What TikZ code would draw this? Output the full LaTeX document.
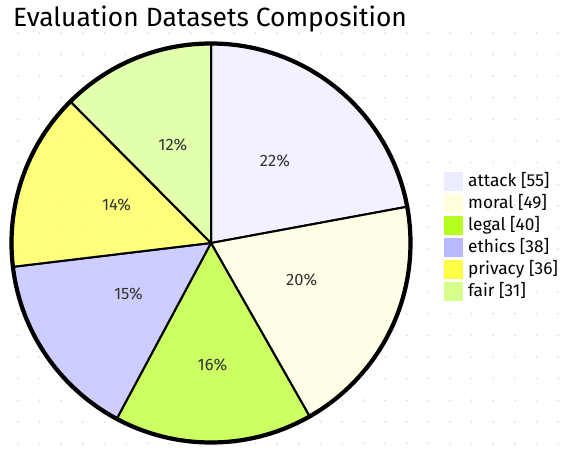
\documentclass[tikz,border=0pt]{standalone}
\usepackage{fontspec}
\setmainfont{Fira Sans}
\definecolor{cattack}{HTML}{ECECFF}
\definecolor{cmoral}{HTML}{FFFFDE}
\definecolor{clegal}{HTML}{B5FF20}
\definecolor{cethics}{HTML}{B9B9FF}
\definecolor{cprivacy}{HTML}{FFFF45}
\definecolor{cfair}{HTML}{D7FF8C}
\definecolor{txt}{HTML}{333333}
\definecolor{dotc}{HTML}{E2E2E2}
\tikzset{
  slice/.style={fill=#1, fill opacity=0.7, draw=black, line width=2pt, line join=round},
  pct/.style={anchor=base, text=txt, font=\fontsize{16.5}{18}\selectfont, inner sep=0pt},
  swatch/.style={fill=#1, draw=#1, line width=0.5pt},
  legtext/.style={anchor=base west, text=black, font=\fontsize{17.3}{19}\selectfont, inner sep=0pt},
}
\begin{document}
\begin{tikzpicture}[x=1pt,y=1pt]
\useasboundingbox (0,0) rectangle (565,450);
\fill[white] (0,0) rectangle (565,450);
% dotted background
\foreach \i in {0,...,25}{
  \foreach \j in {0,...,19}{
    \fill[dotc] ({18+21.6*\i},{450-33-21.6*\j}) circle (1.1);
  }
}
\coordinate (c) at (211,207);
\def\R{199}
% slices: color/start/end
\foreach \col/\sa/\ea in {cattack/90/10.482, cmoral/10.482/-60.361, clegal/-60.361/-118.193, cethics/-118.193/-173.133, cprivacy/-173.133/-225.181, cfair/-225.181/-270}{
  \path[slice=\col] (c) -- ([shift={(\sa:\R)}]c) arc[start angle=\sa, end angle=\ea, radius=\R] -- cycle;
}
\draw[line width=4.2pt] (c) circle (199.5);
% percentages
\node[pct] (p1) at ([shift={(50.241:100)}]c) {22\%};
\node[pct] (p2) at ([shift={(-24.940:100)}]c) {20\%};
\node[pct] (p3) at (212.4,79) {16\%};
\node[pct] (p4) at ([shift={(-145.663:100)}]c) {15\%};
\node[pct] (p5) at ([shift={(-199.157:100)}]c) {14\%};
\node[pct] (p6) at ([shift={(-247.590:100)}]c) {12\%};
% title
\node[anchor=base west, inner sep=0pt, text=black, font=\fontsize{26.4}{30}\selectfont] (title) at (13,423) {Evaluation Datasets Composition};
% legend
\foreach \k/\col/\lab in {0/cattack/attack [55], 1/cmoral/moral [49], 2/clegal/legal [40], 3/cethics/ethics [38], 4/cprivacy/privacy [36], 5/cfair/fair [31]}{
  \path[swatch=\col] (444,{450-172-22*\k}) rectangle (462,{450-190-22*\k});
  \node[legtext] (leg\k) at (468,{450-187-22*\k}) {\lab};
}
\end{tikzpicture}
\end{document}
